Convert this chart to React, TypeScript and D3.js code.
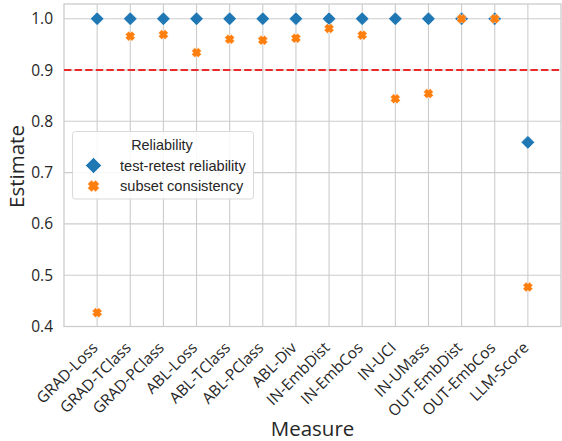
import React from "react";
import * as d3 from "d3";

const measures = [
  "GRAD-Loss", "GRAD-TClass", "GRAD-PClass", "ABL-Loss", "ABL-TClass", "ABL-PClass",
  "ABL-Div", "IN-EmbDist", "IN-EmbCos", "IN-UCI", "IN-UMass", "OUT-EmbDist", "OUT-EmbCos", "LLM-Score",
];
const testRetest = [1.0, 1.0, 1.0, 1.0, 1.0, 1.0, 1.0, 1.0, 1.0, 1.0, 1.0, 1.0, 1.0, 0.759];
const subsetConsistency = [0.427, 0.966, 0.969, 0.934, 0.96, 0.958, 0.962, 0.981, 0.968, 0.844, 0.854, 1.0, 1.0, 0.477];
const yTicks = [0.4, 0.5, 0.6, 0.7, 0.8, 0.9, 1.0];
const threshold = 0.9;

const W = 562, H = 441;
const left = 64, right = 561, top = 4, bottom = 326.5;
const BLUE = "#1f77b4", ORANGE = "#ff7f0e", GRID = "#cccccc";

const plusPts: [number, number][] = [
  [-1, -2], [-1, -1], [-2, -1], [-2, 1], [-1, 1], [-1, 2], [1, 2], [1, 1], [2, 1], [2, -1], [1, -1], [1, -2],
];

function xMark(cx: number, cy: number, s: number) {
  // matplotlib-like filled 'X' marker, s = bounding box size
  const k = s / 2 / 2.1213;
  const c = Math.SQRT1_2;
  return (
    "M" +
    plusPts
      .map(([u, v]) => `${cx + (u * c - v * c) * k},${cy + (u * c + v * c) * k}`)
      .join("L") +
    "Z"
  );
}

function diamond(cx: number, cy: number, r: number) {
  return `M${cx},${cy - r}L${cx + r},${cy}L${cx},${cy + r}L${cx - r},${cy}Z`;
}

export default function App() {
  const x = d3.scaleLinear().domain([-1, measures.length]).range([left, right]);
  const y = d3.scaleLinear().domain([0.4, 1.0287]).range([bottom, top]);
  const tickFont = "'Open Sans', 'Noto Sans', sans-serif";
  const legFont = "'Liberation Sans', Arial, sans-serif";
  return (
    <svg width={W} height={H} style={{ position: "absolute", left: 0, top: 0, background: "#fff" }}>
      <rect x={0} y={0} width={W} height={H} fill="#fff" />
      {/* grid */}
      {measures.map((m, i) => (
        <line key={m} x1={x(i)} x2={x(i)} y1={top} y2={bottom} stroke={GRID} strokeWidth={1.1} />
      ))}
      {yTicks.map((t) => (
        <line key={t} x1={left} x2={right} y1={y(t)} y2={y(t)} stroke={GRID} strokeWidth={1.1} />
      ))}
      {/* spines */}
      <rect x={left} y={top} width={right - left} height={bottom - top} fill="none" stroke={GRID} strokeWidth={1.3} />
      {/* threshold */}
      <line x1={left} x2={right} y1={y(threshold)} y2={y(threshold)} stroke="#ea2a2a" strokeWidth={2} strokeDasharray="7.4,3.2" />
      {/* points */}
      {measures.map((m, i) => (
        <path key={"d" + m} d={diamond(x(i), y(testRetest[i]), 6.8)} fill={BLUE} stroke="#fff" strokeWidth={0.6} />
      ))}
      {measures.map((m, i) => (
        <path key={"x" + m} d={xMark(x(i), y(subsetConsistency[i]), 10)} fill={ORANGE} stroke="#fff" strokeWidth={0.5} />
      ))}
      {/* y ticks */}
      {yTicks.map((t) => (
        <text key={"yt" + t} x={53} y={y(t)} dy="0.36em" textAnchor="end" fontFamily={tickFont} fontSize={15.5} fill="#262626">
          {t.toFixed(1)}
        </text>
      ))}
      {/* x ticks */}
      {measures.map((m, i) => (
        <text key={"xt" + m} transform={`translate(${x(i) - 6},${bottom + 14.5}) rotate(-45)`} textAnchor="end" dy="0.7em"
          fontFamily={tickFont} fontSize={15.5} fill="#262626">
          {m}
        </text>
      ))}
      {/* axis labels */}
      <text x={(left + right) / 2} y={436} textAnchor="middle" fontFamily={tickFont} fontSize={20.5} fill="#262626">Measure</text>
      <text transform={`translate(23.5,166.5) rotate(-90)`} textAnchor="middle" fontFamily={tickFont} fontSize={20.5} fill="#262626">Estimate</text>
      {/* legend */}
      <rect x={72.5} y={131.5} width={181} height={67.5} rx={3} fill="#fff" fillOpacity={0.85} stroke="#d9d9d9" strokeWidth={1} />
      <text x={162} y={149.5} textAnchor="middle" fontFamily={legFont} fontSize={14.4} fill="#262626">Reliability</text>
      <path d={diamond(93.5, 165.5, 8)} fill={BLUE} stroke="#fff" strokeWidth={0.6} />
      <text x={120} y={170.5} fontFamily={legFont} fontSize={14.6} fill="#262626">test-retest reliability</text>
      <path d={xMark(93.5, 186, 12)} fill={ORANGE} stroke="#fff" strokeWidth={0.5} />
      <text x={120} y={191} fontFamily={legFont} fontSize={14.6} fill="#262626">subset consistency</text>
    </svg>
  );
}
